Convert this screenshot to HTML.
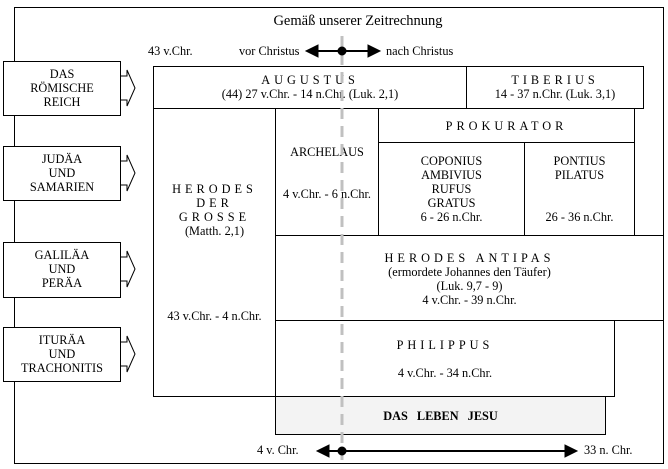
<!DOCTYPE html>
<html><head><meta charset="utf-8"><style>
body{margin:0;width:668px;height:469px;background:#fff;position:relative;font-family:"Liberation Serif",serif;font-size:12.3px;color:#000;overflow:hidden}
.b{position:absolute;border:1px solid #000;box-sizing:border-box;background:#fff;text-align:center;line-height:14px}
.t{position:absolute;white-space:nowrap;line-height:14px}
.sp{letter-spacing:4px}
</style></head><body>
<div class="b" style="left:14px;top:7px;width:650px;height:457px"></div>
<div class="t" style="left:0;width:716px;text-align:center;top:13px;font-size:14.5px;line-height:16px">Gemäß unserer Zeitrechnung</div>
<div class="t" style="left:148px;top:44px">43 v.Chr.</div>
<div class="t" style="left:239px;top:44px">vor Christus</div>
<div class="t" style="left:386px;top:44px">nach Christus</div>

<div class="b" style="left:3px;top:61px;width:118px;height:55px;padding-top:5px">DAS<br>RÖMISCHE<br>REICH</div>
<div class="b" style="left:3px;top:146px;width:118px;height:55px;padding-top:5px">JUDÄA<br>UND<br>SAMARIEN</div>
<div class="b" style="left:3px;top:242px;width:118px;height:56px;padding-top:5px">GALILÄA<br>UND<br>PERÄA</div>
<div class="b" style="left:3px;top:327px;width:118px;height:55px;padding-top:5px">ITURÄA<br>UND<br>TRACHONITIS</div>

<div class="b" style="left:153px;top:66px;width:314px;height:43px;padding-top:6px"><span class="sp">AUGUSTUS</span><br>(44) 27 v.Chr. - 14 n.Chr. (Luk. 2,1)</div>
<div class="b" style="left:466px;top:66px;width:178px;height:43px;padding-top:6px"><span class="sp">TIBERIUS</span><br>14 - 37 n.Chr. (Luk. 3,1)</div>
<div class="b" style="left:153px;top:108px;width:123px;height:289px"></div>
<div class="t" style="left:153px;width:123px;text-align:center;top:182px"><span class="sp">HERODES</span><br><span class="sp">DER</span><br><span class="sp">GROSSE</span><br>(Matth. 2,1)</div>
<div class="t" style="left:153px;width:123px;text-align:center;top:309px">43 v.Chr. - 4 n.Chr.</div>
<div class="b" style="left:275px;top:108px;width:104px;height:128px;padding-top:36px">ARCHELAUS<br><br><br>4 v.Chr. - 6 n.Chr.</div>
<div class="b" style="left:378px;top:108px;width:257px;height:35px;padding-top:10px"><span class="sp">PROKURATOR</span></div>
<div class="b" style="left:378px;top:142px;width:147px;height:94px;padding-top:11px">COPONIUS<br>AMBIVIUS<br>RUFUS<br>GRATUS<br>6 - 26 n.Chr.</div>
<div class="b" style="left:524px;top:142px;width:111px;height:94px;padding-top:11px">PONTIUS<br>PILATUS<br><br><br>26 - 36 n.Chr.</div>
<div class="b" style="left:275px;top:235px;width:389px;height:86px;padding-top:15px"><span class="sp">HERODES ANTIPAS</span><br>(ermordete Johannes den Täufer)<br>(Luk. 9,7 - 9)<br>4 v.Chr. - 39 n.Chr.</div>
<div class="b" style="left:275px;top:320px;width:340px;height:77px;padding-top:17px"><span class="sp">PHILIPPUS</span><br><br>4 v.Chr. - 34 n.Chr.</div>
<div class="b" style="left:275px;top:396px;width:331px;height:39px;padding-top:12px;background:#f3f3f3;font-weight:bold;word-spacing:6px">DAS LEBEN JESU</div>

<div class="t" style="left:257px;top:443px">4 v. Chr.</div>
<div class="t" style="left:584px;top:443px">33 n. Chr.</div>

<svg width="668" height="469" style="position:absolute;left:0;top:0">
<g fill="#fff" stroke="#000" stroke-width="1">
<path d="M121 76H127V70L135 88L127 106V100H121"/>
<path d="M121 161H127V155L135 173L127 191V185H121"/>
<path d="M121 257H127V251L135 269L127 287V281H121"/>
<path d="M121 342H127V336L135 354L127 372V366H121"/>
</g>
<line x1="342" y1="36" x2="342" y2="460" stroke="#c0c0c0" stroke-width="3" stroke-dasharray="11,7"/>
<g fill="#000" stroke="#000">
<line x1="312" y1="51" x2="374" y2="51" stroke-width="2"/>
<path d="M306 51L318 45V57Z"/><path d="M380 51L368 45V57Z"/>
<circle cx="342" cy="51" r="4"/>
<line x1="322" y1="451" x2="570" y2="451" stroke-width="2"/>
<path d="M317 451L329 445V457Z"/><path d="M577 451L565 445V457Z"/>
<circle cx="342" cy="451" r="4"/>
</g>
</svg>
</body></html>
